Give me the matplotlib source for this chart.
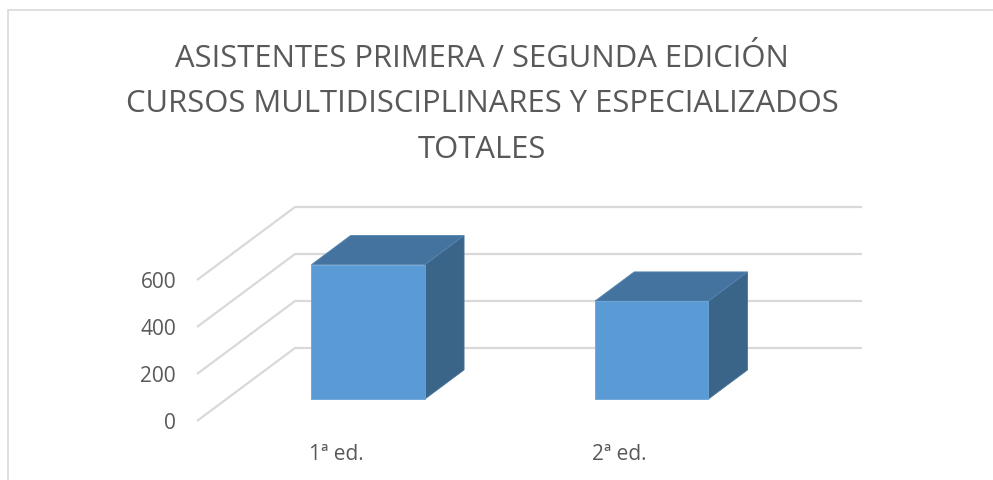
import matplotlib
matplotlib.use("Agg")
import matplotlib.pyplot as plt
from matplotlib.patches import Polygon, Rectangle

categories = ["1ª ed.", "2ª ed."]
values = [572, 417]
yticks = [0, 200, 400, 600]
title_lines = ["ASISTENTES PRIMERA / SEGUNDA EDICIÓN",
               "CURSOS MULTIDISCIPLINARES Y ESPECIALIZADOS",
               "TOTALES"]

W, H = 993, 481
fig = plt.figure(figsize=(W / 100, H / 100), dpi=100)
fig.patch.set_facecolor("white")

# front plane of the 3D plot: x 197..764 px, y(0)=422 px, y(600)=281 px
ax = fig.add_axes([197 / W, (H - 422) / H, 567 / W, 141 / H])
ax.set_xlim(0, 2)
ax.set_ylim(0, 600)
ax.axis("off")

px_x = 567 / 2.0
px_y = 141 / 600.0
DX = 98 / px_x      # depth offset in data units
DY = 73 / px_y

txt_c = "#595959"
grid_c = "#D9D9D9"
for v in yticks:
    ax.plot([0, DX, 2 + DX], [v, v + DY, v + DY], color=grid_c, lw=1.6,
            clip_on=False, solid_capstyle="butt", zorder=1)
    ax.text(-0.074, v - 7.5 / px_y, str(v), ha="right", va="baseline",
            fontsize=15, color=txt_c, family="Open Sans")

front_c, top_c, side_c = "#5B9BD5", "#44739F", "#3A6488"
bw = 0.4
d0, d1 = 0.3, 0.7
for i, (cat, v) in enumerate(zip(categories, values)):
    c = i + 0.5
    xl, xr = c - bw / 2, c + bw / 2
    front = Polygon([(xl + d0 * DX, d0 * DY), (xr + d0 * DX, d0 * DY),
                     (xr + d0 * DX, v + d0 * DY), (xl + d0 * DX, v + d0 * DY)],
                    closed=True, fc=front_c, ec="#6AA5D9", lw=0.6, clip_on=False, zorder=3)
    top = Polygon([(xl + d0 * DX, v + d0 * DY), (xr + d0 * DX, v + d0 * DY),
                   (xr + d1 * DX, v + d1 * DY), (xl + d1 * DX, v + d1 * DY)],
                  closed=True, fc=top_c, ec="#5585B0", lw=0.6, clip_on=False, zorder=3)
    side = Polygon([(xr + d0 * DX, d0 * DY), (xr + d1 * DX, d1 * DY),
                    (xr + d1 * DX, v + d1 * DY), (xr + d0 * DX, v + d0 * DY)],
                   closed=True, fc=side_c, ec="#4A749A", lw=0.6, clip_on=False, zorder=3)
    for p in (side, top, front):
        ax.add_patch(p)
    ax.text(c - 0.01, -38 / px_y, cat, ha="center", va="baseline", fontsize=15,
            color=txt_c, family="Open Sans")

# title
baselines = [67, 112, 158]
for line, y in zip(title_lines, baselines):
    fig.text(482 / W, (H - y) / H, line, ha="center", va="baseline",
             fontsize=22.3, color=txt_c, family="Open Sans")

# chart border
fig.add_artist(Rectangle((8 / W, -0.1), 1.2, (H - 11) / H + 0.1,
                         transform=fig.transFigure, fill=False,
                         ec="#D9D9D9", lw=1.2))

fig.savefig("out.png", dpi=100, facecolor="white")
